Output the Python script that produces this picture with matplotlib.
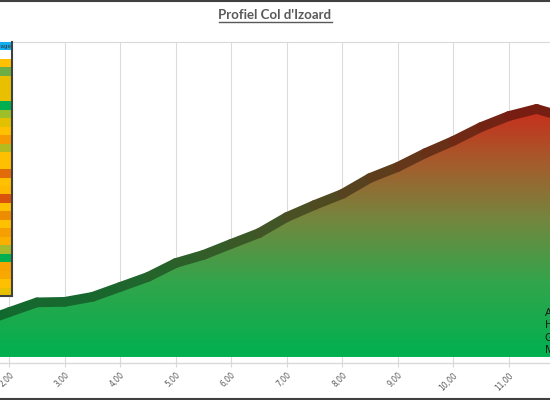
import numpy as np
import matplotlib
matplotlib.use('Agg')
import matplotlib.pyplot as plt
from matplotlib.collections import LineCollection
from matplotlib.colors import LinearSegmentedColormap
from matplotlib.patches import Rectangle, Polygon
from matplotlib.lines import Line2D

# ---- data ----
km = [1.5, 2.0, 2.5, 3.0, 3.5, 4.0, 4.5, 5.0, 5.5, 6.0, 6.5, 7.0, 7.5, 8.0,
      8.5, 9.0, 9.5, 10.0, 10.5, 11.0, 11.5, 12.0]
altitude = [1533, 1571, 1608, 1610, 1629, 1667, 1705, 1758, 1789, 1831, 1872,
            1933, 1979, 2021, 2082, 2124, 2177, 2223, 2276, 2318, 2345, 2314]
tick_km = [2, 3, 4, 5, 6, 7, 8, 9, 10, 11]
tick_labels = ["2,00", "3,00", "4,00", "5,00", "6,00", "7,00", "8,00", "9,00",
               "10,00", "11,00"]
title = "Profiel Col d'Izoard"
info_lines = ["Afstand: 19,0 km", "Hoogteverschil: 1034 m",
              "Gemiddelde: 5,4 %", "Max: 12 %"]
table_header = "Percentage"
table_colors = ['#ffffff', '#ffc000', '#6cae44', '#e8c000', '#e8c000', '#e8c000',
                '#00b050', '#9cbf2a', '#e2c100', '#ffc000', '#f59a00', '#b4bb1e',
                '#ffc000', '#ffc000', '#e36c0a', '#ffc000', '#ffb900', '#d9530c',
                '#ffc000', '#ee8c00', '#ffc000', '#f5a000', '#fbb000', '#a8bb2c',
                '#00b050', '#f7a300', '#f8a800', '#ffc000', '#e8c000']

base_alt = 1400

W, H = 550, 400
fig = plt.figure(figsize=(5.5, 4), dpi=100)
fig.patch.set_facecolor('white')

ax = fig.add_axes([0, 37 / H, 1, 321 / H])

cmap = LinearSegmentedColormap.from_list('grad', [
    (0.0, (0 / 255, 176 / 255, 80 / 255)),
    (0.3, (50 / 255, 165 / 255, 75 / 255)),
    (0.55, (115 / 255, 135 / 255, 62 / 255)),
    (0.78, (165 / 255, 92 / 255, 45 / 255)),
    (1.0, (200 / 255, 45 / 255, 28 / 255)),
])

top_alt = max(altitude)
verts = [(km[0], base_alt)] + list(zip(km, altitude)) + [(km[-1], base_alt)]
poly = Polygon(verts, closed=True, facecolor='none', edgecolor='none',
               transform=ax.transData)
ax.add_patch(poly)
grad = np.linspace(0, 1, 256).reshape(-1, 1)
im = ax.imshow(grad, extent=[km[0], km[-1], base_alt, top_alt], origin='lower',
               aspect='auto', cmap=cmap, zorder=2, interpolation='bilinear')
im.set_clip_path(poly)

# line with darker gradient colours
pts = np.column_stack([km, altitude])
segs = np.stack([pts[:-1], pts[1:]], axis=1)
cols = []
for s in segs:
    f = (s[:, 1].mean() - base_alt) / (top_alt - base_alt)
    r, g, b, _ = cmap(f)
    cols.append((r * 0.6, g * 0.62, b * 0.6))
lc = LineCollection(segs, colors=cols, linewidths=7, capstyle='round',
                    joinstyle='round', zorder=3)
ax.add_collection(lc)

ax.set_xlim(1.8324, 11.742)
ax.set_ylim(1377, 2600)
ax.set_xticks(tick_km)
ax.set_xticklabels(tick_labels, rotation=45, ha='right', rotation_mode='anchor')
ax.set_yticks([])
ax.grid(axis='x', color='#dcdcdc', lw=0.8, zorder=0)
ax.set_axisbelow(True)
for side in ['left', 'right']:
    ax.spines[side].set_visible(False)
ax.spines['top'].set_color('#d9d9d9')
ax.spines['bottom'].set_color('#d9d9d9')
ax.spines['bottom'].set_linewidth(1.0)
ax.tick_params(axis='x', direction='inout', length=6, color='#d9d9d9',
               labelsize=5.5, labelcolor='#595959', pad=2.5)

# title with underline
t = fig.text(0.5, 1 - 19 / H, title, ha='center', va='baseline',
             fontsize=9.5, fontweight='bold', color='#595959', family='Lato')
fig.canvas.draw()
bb = t.get_window_extent()
fig.add_artist(Line2D([bb.x0 / W, bb.x1 / W], [1 - 21.7 / H, 1 - 21.7 / H],
                      color='#595959', lw=1.0, transform=fig.transFigure))

# info texts on the right (cut off by the figure edge, as in the reference)
for i, s in enumerate(info_lines):
    yb = [316, 328.3, 341, 353][i]
    fig.text(545 / W, 1 - yb / H, s, ha='left', va='baseline', fontsize=8,
             color='#111111', family='Open Sans')

# colour table on the left
top_px, row_h = 42, 8.47
nrows = len(table_colors) + 1
tab = fig.add_axes([0, 1 - (top_px + nrows * row_h) / H, 12 / W, nrows * row_h / H])
tab.set_xlim(0, 1)
tab.set_ylim(nrows, 0)
tab.axis('off')
tab.add_patch(Rectangle((0, 0), 1, 1, facecolor='#12aef0', edgecolor='none'))
tab.text(0.95, 0.55, table_header, ha='right', va='center', fontsize=4,
         color='#333333', clip_on=True)
for i, c in enumerate(table_colors):
    tab.add_patch(Rectangle((0, i + 1), 1, 1, facecolor=c, edgecolor='none'))
tab.plot([1, 1], [0, nrows], color='#404040', lw=1.5, clip_on=False)
tab.plot([0, 1], [nrows, nrows], color='#404040', lw=1.5, clip_on=False)

# outer chart border (top and bottom visible)
fig.add_artist(Line2D([0, 1], [1 - 0.5 / H, 1 - 0.5 / H], color='#404040', lw=1.5,
                      transform=fig.transFigure))
fig.add_artist(Line2D([0, 1], [1.0 / H, 1.0 / H], color='#404040', lw=1.5,
                      transform=fig.transFigure))

fig.savefig('out.png', dpi=100)
